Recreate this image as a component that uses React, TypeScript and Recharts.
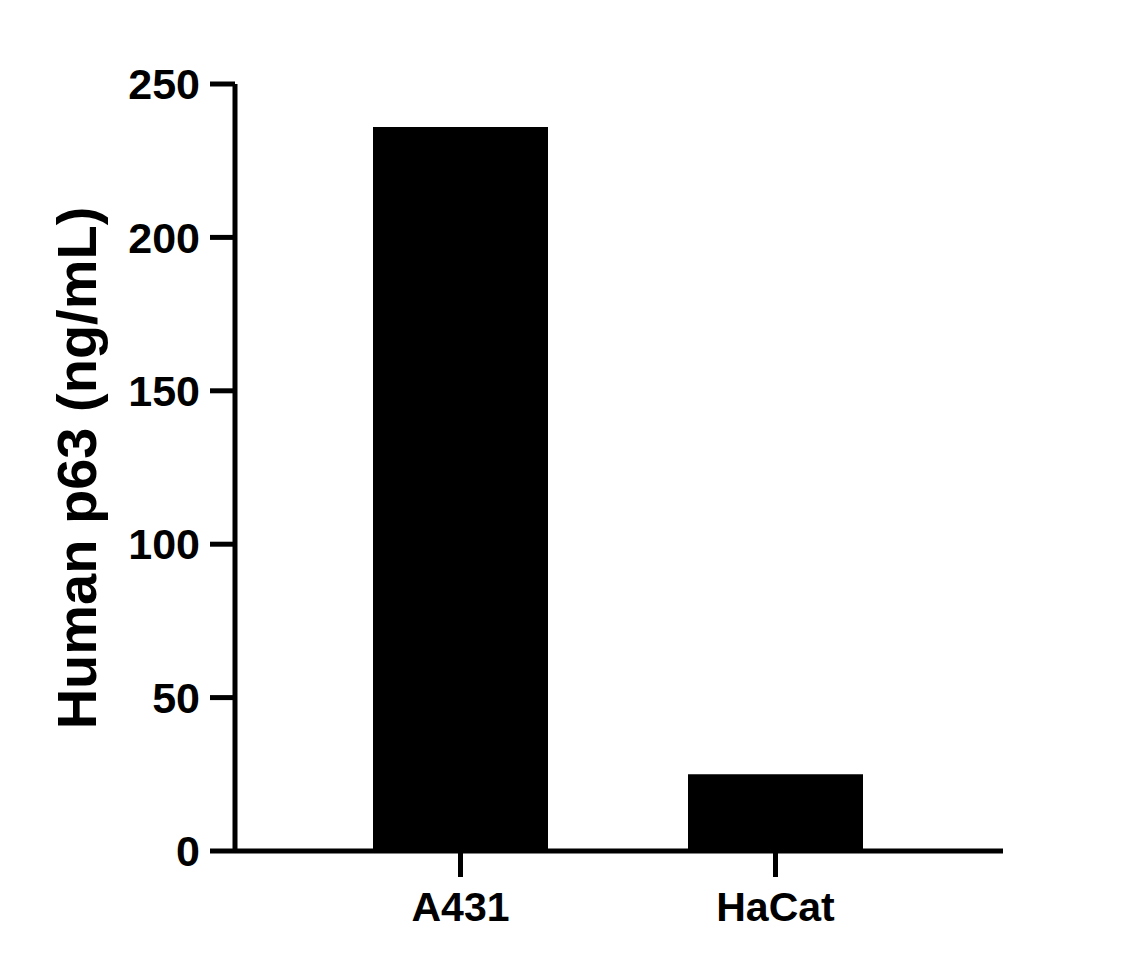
import React from "react";
import { BarChart, Bar, XAxis, YAxis, Label } from "recharts";

const categories = ["A431", "HaCat"];
const values = [236, 25];
const yTicks = [0, 50, 100, 150, 200, 250];
const yAxisTitle = "Human p63 (ng/mL)";

const data = categories.map((name, i) => ({ name, value: values[i] }));

const FONT = "'Liberation Sans', Arial, sans-serif";

const renderYLabel = () => (
  <text
    x={96}
    y={468}
    transform="rotate(-90 96 468)"
    textAnchor="middle"
    fontFamily={FONT}
    fontWeight="bold"
    fontSize={56}
    fill="#000"
  >
    {yAxisTitle}
  </text>
);

export default function App() {
  return (
    <div style={{ position: "absolute", left: 0, top: 0, width: 1140, height: 968, background: "#fff" }}>
      <BarChart
        width={1140}
        height={968}
        data={data}
        margin={{ top: 84, right: 137, bottom: 37, left: 0 }}
      >
        <XAxis
          dataKey="name"
          height={80}
          padding={{ left: 68, right: 70 }}
          axisLine={{ stroke: "#000", strokeWidth: 5 }}
          tickLine={{ stroke: "#000", strokeWidth: 5 }}
          tickSize={26}
          tickMargin={15}
          tick={{ fill: "#000", fontFamily: FONT, fontWeight: "bold", fontSize: 41 }}
        />
        <YAxis
          width={235}
          domain={[0, 250]}
          ticks={yTicks}
          interval={0}
          axisLine={{ stroke: "#000", strokeWidth: 5 }}
          tickLine={{ stroke: "#000", strokeWidth: 5 }}
          tickSize={25}
          tickMargin={10}
          tick={{ fill: "#000", fontFamily: FONT, fontWeight: "bold", fontSize: 43 }}
        >
          <Label content={renderYLabel} />
        </YAxis>
        <Bar dataKey="value" fill="#000" barSize={175} isAnimationActive={false} />
      </BarChart>
    </div>
  );
}
